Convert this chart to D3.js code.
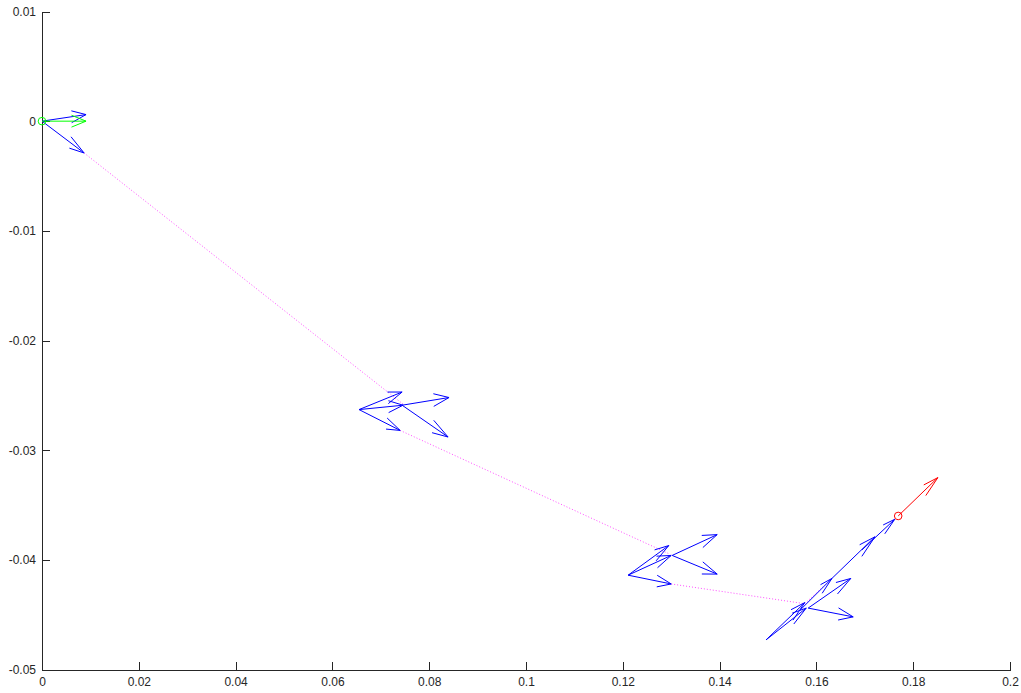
<!DOCTYPE html>
<meta charset="utf-8">
<head>
	<title>Pose arrows</title>
	<script type="text/javascript" src="https://d3js.org/d3.v7.min.js"></script>
	<style>
		body { margin: 0; background: #fff; }
		.axis text { font-family: "Liberation Sans", Arial, sans-serif; font-size: 12px; fill: #262626; }
		.axis path, .axis line { stroke: #262626; shape-rendering: crispEdges; }
	</style>
</head>
<body>
	<div id="chart"></div>
	<script>
		// tick values and labels
		var xTicks = [0, 0.02, 0.04, 0.06, 0.08, 0.1, 0.12, 0.14, 0.16, 0.18, 0.2];
		var xLabels = ["0", "0.02", "0.04", "0.06", "0.08", "0.1", "0.12", "0.14", "0.16", "0.18", "0.2"];
		var yTicks = [0.01, 0, -0.01, -0.02, -0.03, -0.04, -0.05];
		var yLabels = ["0.01", "0", "-0.01", "-0.02", "-0.03", "-0.04", "-0.05"];

		// blue quiver arrows: start point and end point
		var blueX0 = [0, 0, 0.0655, 0.0655, 0.0655, 0.0744, 0.0744, 0.1211, 0.1211, 0.1211, 0.1302, 0.1302, 0.1496, 0.1496, 0.1566, 0.1583, 0.1583, 0.1632, 0.1694];
		var blueY0 = [0, 0, -0.0263, -0.0263, -0.0263, -0.0259, -0.0259, -0.0414, -0.0414, -0.0414, -0.0396, -0.0396, -0.0473, -0.0473, -0.0446, -0.0444, -0.0444, -0.0417, -0.0391];
		var blueX1 = [0.0091, 0.0087, 0.0744, 0.0746, 0.0740, 0.0841, 0.0839, 0.1295, 0.1300, 0.1300, 0.1395, 0.1395, 0.1576, 0.1579, 0.1632, 0.1671, 0.1676, 0.1721, 0.1762];
		var blueY1 = [0.0006, -0.0029, -0.0247, -0.0259, -0.0282, -0.0252, -0.0288, -0.0387, -0.0396, -0.0422, -0.0377, -0.0413, -0.0439, -0.0444, -0.0417, -0.0417, -0.0452, -0.0379, -0.0363];

		// start pose (green) and end pose (red)
		var startPose = [0, 0, 0.0091, 0];
		var endPose = [0.1769, -0.0360, 0.1851, -0.0325];

		// dotted trajectory, null = gap
		var pathX = [0.0087, 0.0746, null, 0.0740, 0.1298, null, 0.1300, 0.1576, 0.1632];
		var pathY = [-0.0029, -0.0258, null, -0.0282, -0.0395, null, -0.0422, -0.0440, -0.0417];

		var w = 1021;
		var h = 693;
		var margin = {left: 42, right: 11, top: 11.5, bottom: 23.5};

		var svg = d3.select("#chart").append("svg")
			.attr("width", w).attr("height", h);

		var x = d3.scaleLinear().domain([0, 0.2]).range([margin.left, w - margin.right]);
		var y = d3.scaleLinear().domain([-0.05, 0.01]).range([h - margin.bottom, margin.top]);

		var xAxis = d3.axisBottom(x)
			.tickValues(xTicks)
			.tickFormat(function (d, i) { return xLabels[i]; })
			.tickSizeInner(-8).tickSizeOuter(0).tickPadding(8);

		var yAxis = d3.axisLeft(y)
			.tickValues(yTicks)
			.tickFormat(function (d, i) { return yLabels[i]; })
			.tickSizeInner(-8).tickSizeOuter(0).tickPadding(6);

		svg.append("g").attr("class", "axis")
			.attr("transform", "translate(0," + (h - margin.bottom) + ")")
			.call(xAxis);
		svg.append("g").attr("class", "axis")
			.attr("transform", "translate(" + margin.left + ",0)")
			.call(yAxis);

		var g = svg.append("g");

		// dotted path
		var pts = pathX.map(function (d, i) { return [d, pathY[i]]; });
		var line = d3.line()
			.defined(function (d) { return d[0] !== null; })
			.x(function (d) { return x(d[0]); })
			.y(function (d) { return y(d[1]); });
		g.append("path")
			.datum(pts)
			.attr("d", line)
			.style("fill", "none")
			.style("stroke", "#ff00ff")
			.style("stroke-width", 0.7)
			.style("stroke-dasharray", "1,2");

		// arrow with head computed in data units (like quiver)
		var alpha = 0.33, beta = 0.18;
		function arrowPath(x0, y0, x1, y1) {
			var u = x1 - x0, v = y1 - y0;
			var ax = x1 - alpha * (u + beta * v), ay = y1 - alpha * (v - beta * u);
			var bx = x1 - alpha * (u - beta * v), by = y1 - alpha * (v + beta * u);
			return "M" + x(x0) + "," + y(y0) + "L" + x(x1) + "," + y(y1) +
				"M" + x(ax) + "," + y(ay) + "L" + x(x1) + "," + y(y1) + "L" + x(bx) + "," + y(by);
		}

		var arrows = blueX0.map(function (d, i) { return [d, blueY0[i], blueX1[i], blueY1[i]]; });
		g.selectAll(".blue")
			.data(arrows).enter()
			.append("path")
			.attr("class", "blue")
			.attr("d", function (d) { return arrowPath(d[0], d[1], d[2], d[3]); })
			.style("fill", "none")
			.style("stroke", "#0000ff")
			.style("stroke-width", 1);

		var ends = [[startPose, "#00ff00"], [endPose, "#ff0000"]];
		ends.forEach(function (e) {
			var p = e[0];
			g.append("path")
				.attr("d", arrowPath(p[0], p[1], p[2], p[3]))
				.style("fill", "none")
				.style("stroke", e[1])
				.style("stroke-width", 1);
			g.append("circle")
				.attr("cx", x(p[0])).attr("cy", y(p[1]))
				.attr("r", 3.8)
				.style("fill", "none")
				.style("stroke", e[1])
				.style("stroke-width", 1);
		});
	</script>
</body>
</html>
